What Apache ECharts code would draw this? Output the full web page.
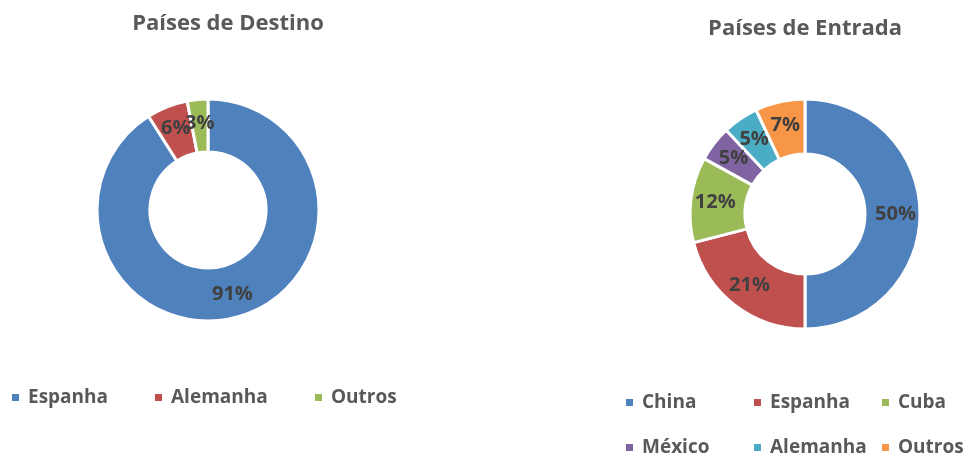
<!DOCTYPE html>
<html>
<head>
<meta charset="utf-8">
<script src="https://cdn.jsdelivr.net/npm/echarts@6/dist/echarts.min.js"></script>
<style>
html,body{margin:0;padding:0;background:#fff;}
.c{position:absolute;left:0;top:0;width:968px;height:457px;}
</style>
</head>
<body>
<div id="a" class="c"></div>
<div id="b" class="c"></div>
<script>
// Left chart data
const destinoTitle = "Países de Destino";
const destinoNames = ["Espanha", "Alemanha", "Outros"];
const destinoValues = [91, 6, 3];
const destinoColors = ["#4F81BD", "#C0504D", "#9BBB59"];

// Right chart data
const entradaTitle = "Países de Entrada";
const entradaNames = ["China", "Espanha", "Cuba", "México", "Alemanha", "Outros"];
const entradaValues = [50, 21, 12, 5, 5, 7];
const entradaColors = ["#4F81BD", "#C0504D", "#9BBB59", "#8064A2", "#4BACC6", "#F79646"];

const FONT = "Open Sans";
const TXT = "#595959";

function legendAt(name, left, top) {
  return {
    data: [name], left: left, top: top, padding: 0,
    itemWidth: 9, itemHeight: 9, itemGap: 0, icon: 'rect',
    selectedMode: false,
    textStyle: { fontFamily: FONT, fontWeight: 'bold', fontSize: 19, color: TXT, padding: [0, 0, 0, 3] }
  };
}

function pieSeries(names, values, colors, center, radius) {
  return {
    type: 'pie', center: center, radius: radius, startAngle: 90, clockwise: true,
    avoidLabelOverlap: false, animation: false, silent: true,
    minShowLabelAngle: 0,
    labelLayout: { hideOverlap: false },
    itemStyle: { borderColor: '#fff', borderWidth: 3 },
    label: {
      show: true, position: 'inside', formatter: '{c}%',
      fontFamily: FONT, fontWeight: 'bold', fontSize: 20, color: '#404040'
    },
    labelLine: { show: false },
    data: names.map((n, i) => ({ name: n, value: values[i], itemStyle: { color: colors[i] } }))
  };
}

const chartA = echarts.init(document.getElementById('a'));
chartA.setOption({
  animation: false,
  title: { text: destinoTitle, left: 223, top: 8, textAlign: 'center',
    textStyle: { fontFamily: FONT, fontWeight: 'bold', fontSize: 22, color: TXT } },
  legend: [
    legendAt(destinoNames[0], 10, 388),
    legendAt(destinoNames[1], 153, 388),
    legendAt(destinoNames[2], 313, 388)
  ],
  series: [pieSeries(destinoNames, destinoValues, destinoColors, [208, 210], [58, 111])]
});

const chartB = echarts.init(document.getElementById('b'));
chartB.setOption({
  animation: false,
  title: { text: entradaTitle, left: 800, top: 13, textAlign: 'center',
    textStyle: { fontFamily: FONT, fontWeight: 'bold', fontSize: 22, color: TXT } },
  legend: [
    legendAt(entradaNames[0], 624, 393),
    legendAt(entradaNames[1], 752, 393),
    legendAt(entradaNames[2], 880, 393),
    legendAt(entradaNames[3], 624, 438),
    legendAt(entradaNames[4], 752, 438),
    legendAt(entradaNames[5], 880, 438)
  ],
  series: [pieSeries(entradaNames, entradaValues, entradaColors, [805, 214], [60, 115])]
});
</script>
</body>
</html>
